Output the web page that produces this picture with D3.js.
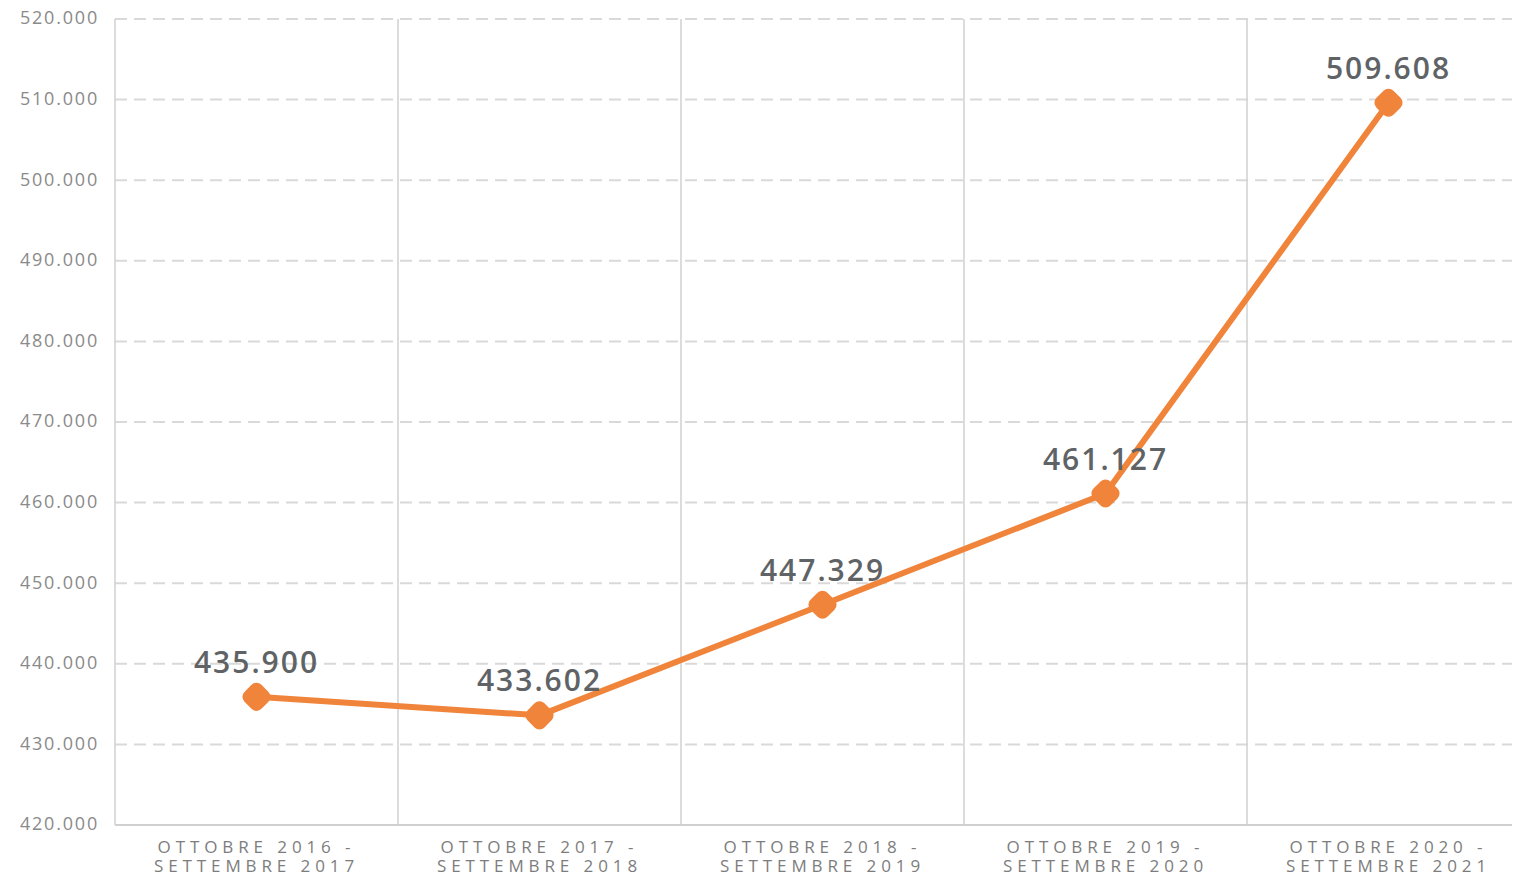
<!DOCTYPE html>
<html>
<head>
<meta charset="utf-8">
<script src="https://cdn.jsdelivr.net/npm/d3@7"></script>
<style>
  body { margin: 0; background: #fff; }
  svg { display: block; }
</style>
</head>
<body>
<svg id="chart"></svg>
<script>
// data
var periods = [
    ["OTTOBRE 2016 -", "SETTEMBRE 2017"],
    ["OTTOBRE 2017 -", "SETTEMBRE 2018"],
    ["OTTOBRE 2018 -", "SETTEMBRE 2019"],
    ["OTTOBRE 2019 -", "SETTEMBRE 2020"],
    ["OTTOBRE 2020 -", "SETTEMBRE 2021"]
];
var values = [435900, 433602, 447329, 461127, 509608];
var yTicks = [420000, 430000, 440000, 450000, 460000, 470000, 480000, 490000, 500000, 510000, 520000];

var outerWidth = 1514, outerHeight = 878;
var margins = {left: 115, top: 19, right: 2, bottom: 53};
var innerHeight = outerHeight - margins.top - margins.bottom;
var bandWidth = 283;

var svg = d3.select("svg#chart")
    .attr("width", outerWidth)
    .attr("height", outerHeight);

var g = svg.append("g")
    .attr("transform", "translate(" + margins.left + "," + margins.top + ")");

var xScale = d3.scaleBand()
    .domain(d3.range(periods.length))
    .range([0, bandWidth * periods.length]);
var yScale = d3.scaleLinear()
    .domain([420000, 520000])
    .range([innerHeight, 0]);

var gridRight = outerWidth - margins.right - margins.left;
var fmt = function(v) { return d3.format(",")(v).replace(/,/g, "."); };

// horizontal dashed grid
g.selectAll(".hgrid")
    .data(yTicks.slice(1))
    .join("line")
    .attr("class", "hgrid")
    .attr("x1", 0).attr("x2", gridRight)
    .attr("y1", d => yScale(d)).attr("y2", d => yScale(d))
    .attr("stroke", "#d9d9d9")
    .attr("stroke-width", 2)
    .attr("stroke-dasharray", "12,7");

// vertical separators
g.selectAll(".vgrid")
    .data(d3.range(periods.length))
    .join("line")
    .attr("class", "vgrid")
    .attr("x1", d => xScale(d)).attr("x2", d => xScale(d))
    .attr("y1", 0).attr("y2", innerHeight)
    .attr("stroke", "#d0d0d0")
    .attr("stroke-width", 1.5);

// base line
g.append("line")
    .attr("x1", 0).attr("x2", gridRight)
    .attr("y1", innerHeight).attr("y2", innerHeight)
    .attr("stroke", "#d0d0d0")
    .attr("stroke-width", 2);

// y axis labels
g.selectAll(".ylab")
    .data(yTicks)
    .join("text")
    .attr("class", "ylab")
    .attr("x", -16)
    .attr("y", d => yScale(d))
    .attr("dy", "0.3em")
    .attr("text-anchor", "end")
    .attr("font-family", "'Open Sans', sans-serif")
    .attr("font-size", "18px")
    .attr("letter-spacing", "1.8px")
    .attr("fill", "#8a8a8a")
    .text(fmt);

// x axis labels
var xl = g.selectAll(".xlab")
    .data(periods)
    .join("text")
    .attr("class", "xlab")
    .attr("text-anchor", "middle")
    .attr("font-family", "'Open Sans', sans-serif")
    .attr("font-size", "17px")
    .attr("letter-spacing", "4.9px")
    .attr("fill", "#7d7d7d");
xl.append("tspan")
    .attr("x", (d, i) => xScale(i) + xScale.bandwidth() / 2)
    .attr("y", innerHeight + 28)
    .text(d => d[0]);
xl.append("tspan")
    .attr("x", (d, i) => xScale(i) + xScale.bandwidth() / 2)
    .attr("y", innerHeight + 47)
    .text(d => d[1]);

// line
var line = d3.line()
    .x((d, i) => xScale(i) + xScale.bandwidth() / 2)
    .y(d => yScale(d));

g.append("path")
    .datum(values)
    .attr("d", line)
    .attr("fill", "none")
    .attr("stroke", "#f0843a")
    .attr("stroke-width", 6)
    .attr("stroke-linejoin", "round");

// markers
g.selectAll(".marker")
    .data(values)
    .join("rect")
    .attr("class", "marker")
    .attr("x", -12).attr("y", -12)
    .attr("width", 24).attr("height", 24)
    .attr("rx", 7)
    .attr("transform", (d, i) => "translate(" + (xScale(i) + xScale.bandwidth() / 2) + "," + yScale(d) + ") rotate(45)")
    .attr("fill", "#f0843a");

// value labels
g.selectAll(".vlab")
    .data(values)
    .join("text")
    .attr("class", "vlab")
    .attr("x", (d, i) => xScale(i) + xScale.bandwidth() / 2)
    .attr("y", d => yScale(d) - 24)
    .attr("text-anchor", "middle")
    .attr("font-family", "'Open Sans', sans-serif")
    .attr("font-weight", "600")
    .attr("font-size", "30px")
    .attr("letter-spacing", "2px")
    .attr("fill", "#5f6366")
    .text(fmt);
</script>
</body>
</html>
